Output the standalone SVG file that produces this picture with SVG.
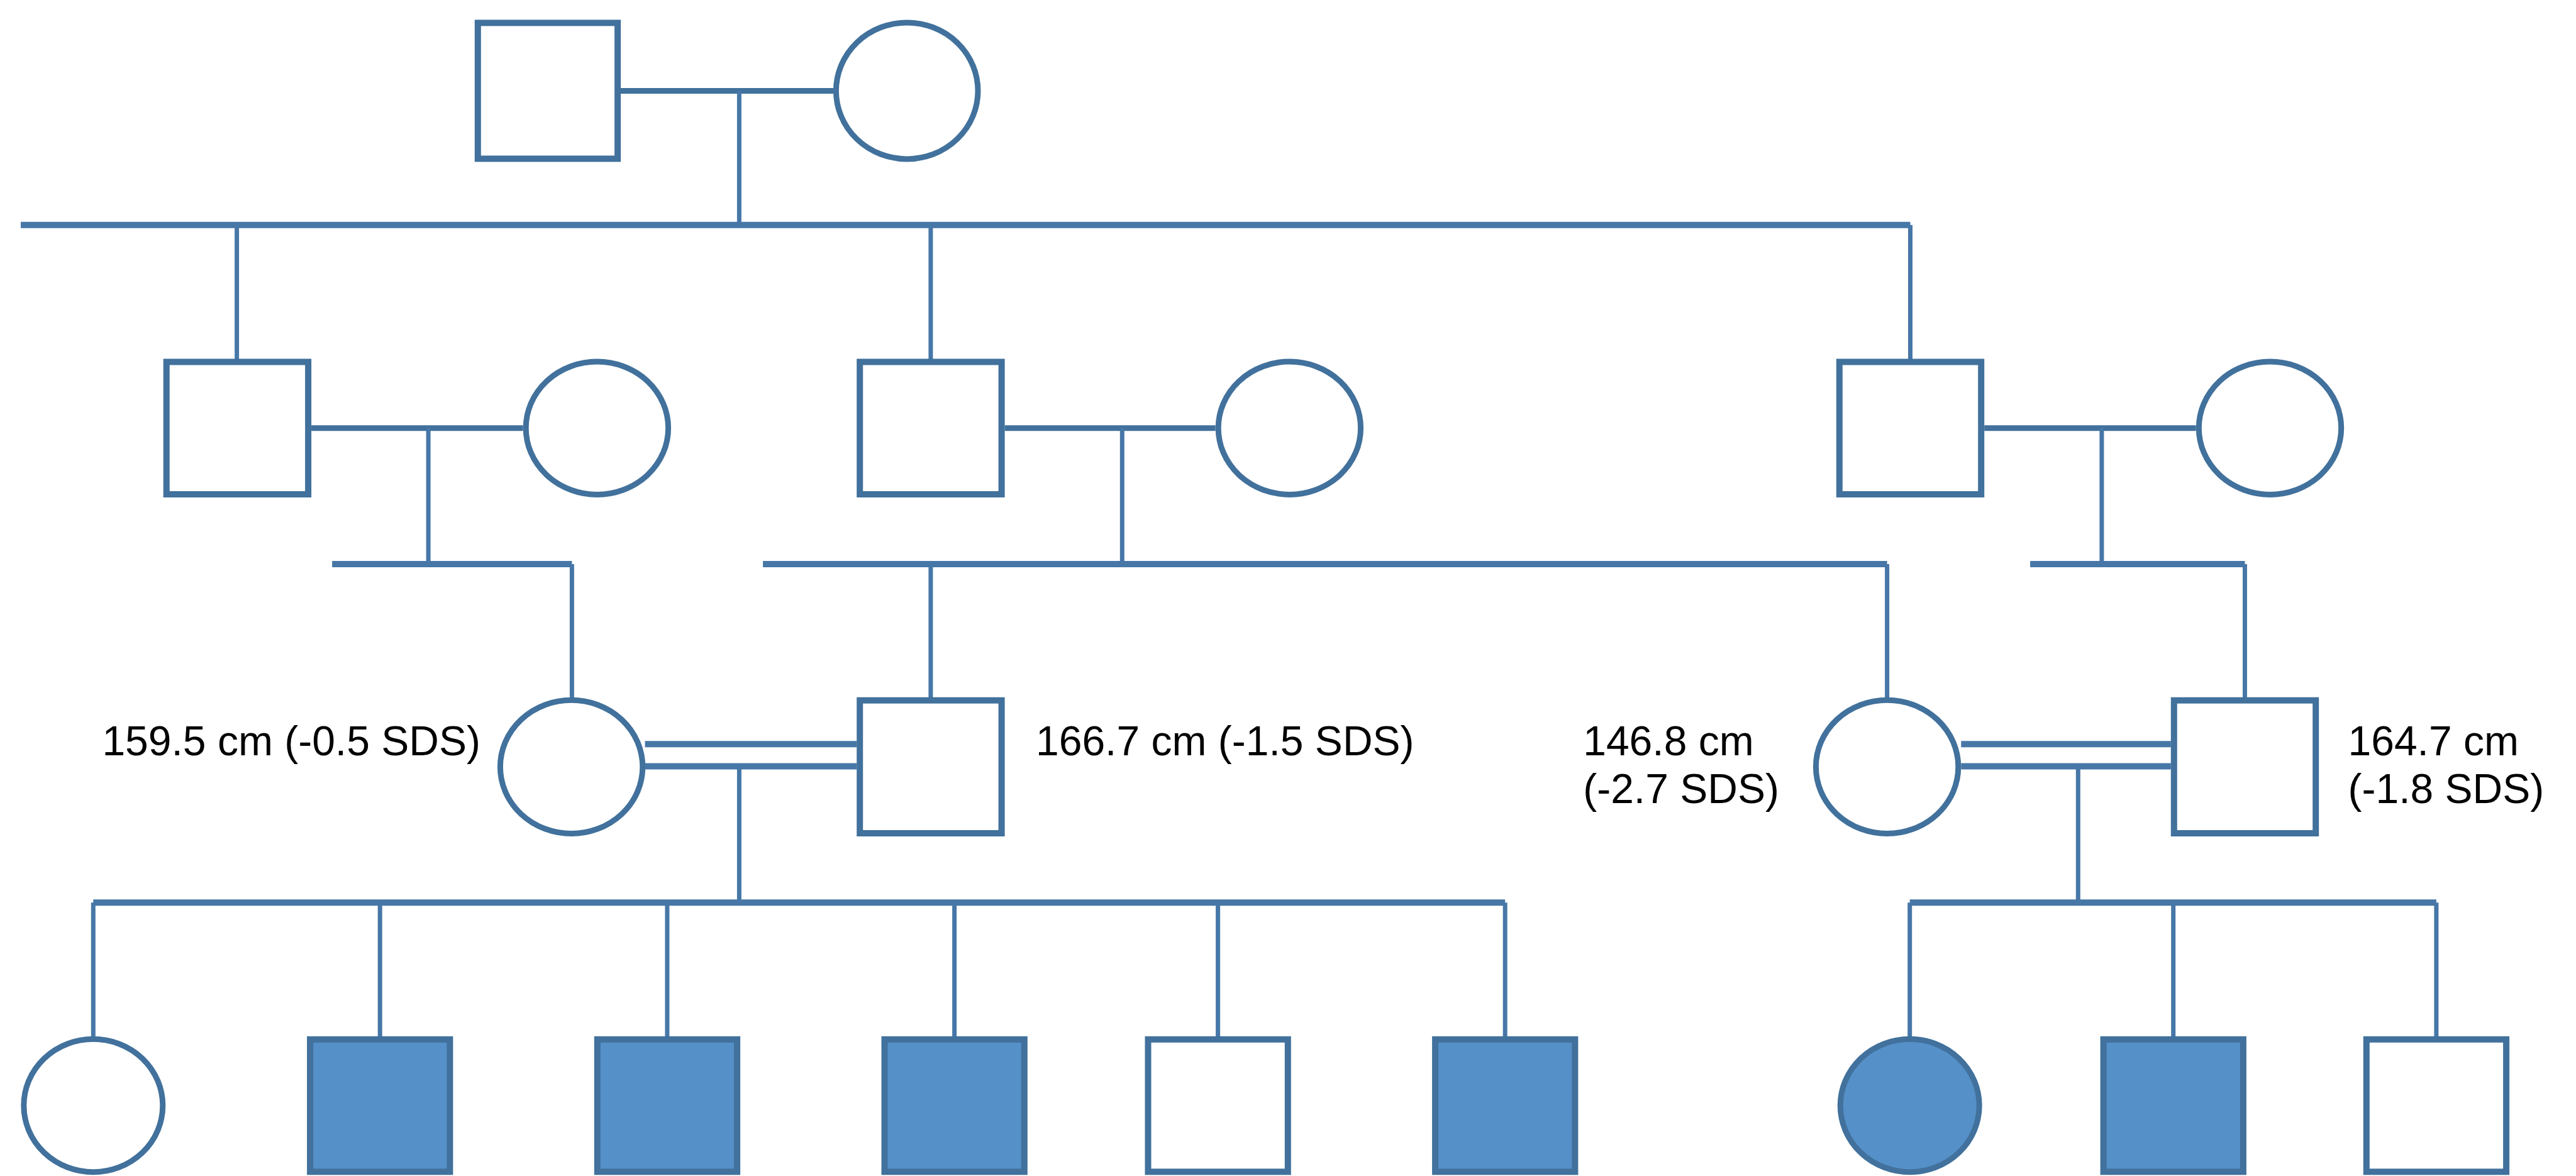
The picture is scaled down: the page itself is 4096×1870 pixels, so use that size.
<svg xmlns="http://www.w3.org/2000/svg" width="4096" height="1870" viewBox="0 0 4096 1870">
<style>
.m{fill:#ffffff;stroke:#41719c;stroke-width:10}
.f{fill:#5590c8;stroke:#41719c;stroke-width:10}
.e{fill:#ffffff;stroke:#41719c;stroke-width:9}
.ef{fill:#5590c8;stroke:#41719c;stroke-width:9}
.h{stroke:#4677a7;stroke-width:10;fill:none}
.v{stroke:#4677a7;stroke-width:7;fill:none}
.mar{stroke:#41719c;stroke-width:9;fill:none}
.t{font-family:"Liberation Sans",Arial,sans-serif;font-size:66px;fill:#000000}
</style>
<rect width="4096" height="1870" fill="#ffffff"/>
<g id="connectors">
<!-- gen1 -->
<line class="mar" x1="987" y1="144.4" x2="1325" y2="144.4"/>
<line class="v" x1="1175.4" y1="144.4" x2="1175.4" y2="357.8"/>
<line class="h" x1="33" y1="357.8" x2="3037.5" y2="357.8"/>
<line class="v" x1="376.6" y1="357.8" x2="376.6" y2="575"/>
<line class="v" x1="1479.9" y1="357.8" x2="1479.9" y2="575"/>
<line class="v" x1="3037.5" y1="357.8" x2="3037.5" y2="575"/>
<!-- gen2 marriages -->
<line class="mar" x1="495.1" y1="680.7" x2="831.7" y2="680.7"/>
<line class="v" x1="681.1" y1="680.7" x2="681.1" y2="896.9"/>
<line class="mar" x1="1597.6" y1="680.7" x2="1932.7" y2="680.7"/>
<line class="v" x1="1784.3" y1="680.7" x2="1784.3" y2="896.9"/>
<line class="mar" x1="3155.2" y1="680.7" x2="3491.8" y2="680.7"/>
<line class="v" x1="3341.9" y1="680.7" x2="3341.9" y2="896.9"/>
<!-- gen3 sibships -->
<line class="h" x1="528.1" y1="896.9" x2="909.4" y2="896.9"/>
<line class="v" x1="909.4" y1="896.9" x2="909.4" y2="1110"/>
<line class="h" x1="1213.1" y1="896.9" x2="3000.6" y2="896.9"/>
<line class="v" x1="1479.9" y1="896.9" x2="1479.9" y2="1113"/>
<line class="v" x1="3000.6" y1="896.9" x2="3000.6" y2="1110"/>
<line class="h" x1="3228.1" y1="896.9" x2="3569.5" y2="896.9"/>
<line class="v" x1="3569.5" y1="896.9" x2="3569.5" y2="1113"/>
<!-- consanguineous marriages -->
<line class="h" x1="1025.6" y1="1183.3" x2="1362.2" y2="1183.3"/>
<line class="h" x1="1025.6" y1="1218.6" x2="1362.2" y2="1218.6"/>
<line class="v" x1="1175.4" y1="1218.6" x2="1175.4" y2="1435.2"/>
<line class="h" x1="3118.3" y1="1183.3" x2="3451.8" y2="1183.3"/>
<line class="h" x1="3118.3" y1="1218.6" x2="3451.8" y2="1218.6"/>
<line class="v" x1="3304.3" y1="1218.6" x2="3304.3" y2="1435.2"/>
<!-- gen4 sibships -->
<line class="h" x1="148.3" y1="1435.2" x2="2393.2" y2="1435.2"/>
<line class="v" x1="148.3" y1="1435.2" x2="148.3" y2="1650"/>
<line class="v" x1="604.2" y1="1435.2" x2="604.2" y2="1652"/>
<line class="v" x1="1060.9" y1="1435.2" x2="1060.9" y2="1652"/>
<line class="v" x1="1517.6" y1="1435.2" x2="1517.6" y2="1652"/>
<line class="v" x1="1936.6" y1="1435.2" x2="1936.6" y2="1652"/>
<line class="v" x1="2393.2" y1="1435.2" x2="2393.2" y2="1652"/>
<line class="h" x1="3036.7" y1="1435.2" x2="3873.9" y2="1435.2"/>
<line class="v" x1="3036.7" y1="1435.2" x2="3036.7" y2="1650"/>
<line class="v" x1="3455.7" y1="1435.2" x2="3455.7" y2="1652"/>
<line class="v" x1="3873.9" y1="1435.2" x2="3873.9" y2="1652"/>
</g>
<g id="g1-father"><rect class="m" x="759.8" y="36.4" width="222.3" height="216"/></g>
<g id="g1-mother"><ellipse class="e" cx="1442.2" cy="144.4" rx="112.8" ry="108.5"/></g>
<g id="g2-son1"><rect class="m" x="264.7" y="575.5" width="225.4" height="210.5"/></g>
<g id="g2-wife1"><ellipse class="e" cx="949.4" cy="680.7" rx="113.2" ry="105.7"/></g>
<g id="g2-son2"><rect class="m" x="1367.2" y="575.5" width="225.4" height="210.5"/></g>
<g id="g2-wife2"><ellipse class="e" cx="2050.4" cy="680.7" rx="113.2" ry="105.7"/></g>
<g id="g2-son3"><rect class="m" x="2924.8" y="575.5" width="225.4" height="210.5"/></g>
<g id="g2-wife3"><ellipse class="e" cx="3609.5" cy="680.7" rx="113.2" ry="105.7"/></g>
<g id="g3-mother1"><ellipse class="e" cx="908.6" cy="1219.4" rx="113.2" ry="106.1"/><text class="t" x="162.4" y="1200.6">159.5 cm (-0.5 SDS)</text></g>
<g id="g3-father1"><rect class="m" x="1367.2" y="1113.7" width="225.4" height="211.3"/><text class="t" x="1647" y="1200.6">166.7 cm (-1.5 SDS)</text></g>
<g id="g3-mother2"><ellipse class="e" cx="3000.6" cy="1219.4" rx="113.2" ry="106.1"/><text class="t" x="2517.2" y="1200.6">146.8 cm</text><text class="t" x="2517.2" y="1276.7">(-2.7 SDS)</text></g>
<g id="g3-father2"><rect class="m" x="3456.8" y="1113.7" width="225.4" height="211.3"/><text class="t" x="3733.5" y="1200.6">164.7 cm</text><text class="t" x="3733.5" y="1276.7">(-1.8 SDS)</text></g>
<g id="g4-c1"><ellipse class="e" cx="148.3" cy="1758" rx="110.5" ry="105.7"/></g>
<g id="g4-c2"><rect class="f" x="493.1" y="1652.8" width="222.3" height="210.5"/></g>
<g id="g4-c3"><rect class="f" x="949.8" y="1652.8" width="222.3" height="210.5"/></g>
<g id="g4-c4"><rect class="f" x="1406.5" y="1652.8" width="222.3" height="210.5"/></g>
<g id="g4-c5"><rect class="m" x="1825.5" y="1652.8" width="222.3" height="210.5"/></g>
<g id="g4-c6"><rect class="f" x="2282.1" y="1652.8" width="222.3" height="210.5"/></g>
<g id="g4-c7"><ellipse class="ef" cx="3036.7" cy="1758" rx="110.5" ry="105.7"/></g>
<g id="g4-c8"><rect class="f" x="3344.6" y="1652.8" width="222.3" height="210.5"/></g>
<g id="g4-c9"><rect class="m" x="3762.8" y="1652.8" width="222.3" height="210.5"/></g>
</svg>
